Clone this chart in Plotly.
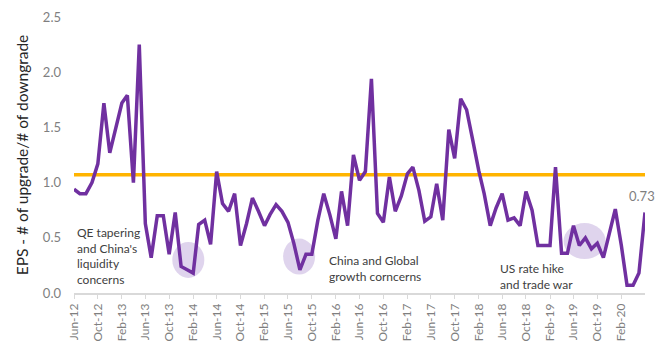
import pandas as pd
import plotly.graph_objects as go

# ---- data ----
start_month = "2012-06-01"
eps_ratio = [
    0.94, 0.90, 0.90, 1.00, 1.17, 1.72, 1.27, 1.50, 1.72, 1.79, 1.00, 2.25,
    0.63, 0.32, 0.70, 0.70, 0.35, 0.73, 0.24, 0.21, 0.18, 0.62, 0.66, 0.44,
    1.10, 0.81, 0.74, 0.90, 0.43, 0.63, 0.86, 0.74, 0.61, 0.71, 0.80, 0.74,
    0.64, 0.45, 0.21, 0.35, 0.35, 0.66, 0.90, 0.71, 0.49, 0.92, 0.61, 1.25,
    1.02, 1.10, 1.94, 0.72, 0.64, 1.05, 0.74, 0.88, 1.08, 1.14, 0.93, 0.65,
    0.69, 0.99, 0.66, 1.48, 1.22, 1.76, 1.66, 1.39, 1.11, 0.90, 0.61, 0.77,
    0.90, 0.66, 0.68, 0.61, 0.92, 0.75, 0.43, 0.43, 0.43, 1.14, 0.36, 0.36,
    0.61, 0.43, 0.50, 0.40, 0.45, 0.32, 0.54, 0.76, 0.43, 0.07, 0.07, 0.18,
    0.73,
]
average_level = 1.07
y_ticks = [0.0, 0.5, 1.0, 1.5, 2.0, 2.5]

dates = pd.date_range(start_month, periods=len(eps_ratio), freq="MS")
tick_dates = dates[:-1:4]
tick_labels = [d.strftime("%b-%y") for d in tick_dates]

# highlight circles: (center date, center value, rx px, ry px)
highlights = [
    ("2014-01-07", 0.30, 16, 18),
    ("2015-07-28", 0.33, 16, 18),
    ("2019-07-28", 0.47, 21, 18),
]
notes = [
    ("2012-06-08", 0.63, "QE tapering<br>and China's<br>liquidity<br>concerns"),
    ("2015-12-18", 0.38, "China and Global<br>growth corncerns"),
    ("2018-05-12", 0.31, "US rate hike<br>and trade war"),
]

PURPLE = "#7030A0"
ORANGE = "#FFB400"
GREY = "#7F7F7F"
FONT = "Lato, 'Open Sans', sans-serif"

fig = go.Figure()
fig.add_trace(go.Scatter(
    x=dates, y=[average_level] * len(dates), mode="lines",
    line=dict(color=ORANGE, width=3.5), hoverinfo="skip", showlegend=False))
fig.add_trace(go.Scatter(
    x=dates, y=eps_ratio, mode="lines",
    line=dict(color=PURPLE, width=3.5), showlegend=False))

for cx, cy, rx, ry in highlights:
    fig.add_shape(type="circle", xref="x", yref="y",
                  xsizemode="pixel", ysizemode="pixel",
                  xanchor=cx, yanchor=cy,
                  x0=-rx, x1=rx, y0=-ry, y1=ry,
                  fillcolor="rgba(196,176,222,0.55)", line=dict(width=0),
                  layer="below")

for nx, ny, txt in notes:
    fig.add_annotation(x=nx, y=ny, text=txt, showarrow=False,
                       xanchor="left", yanchor="top", align="left",
                       font=dict(family=FONT, size=12, color="#404040"))

fig.add_annotation(x=dates[-1], y=eps_ratio[-1], text=f"{eps_ratio[-1]:.2f}",
                   showarrow=False, xanchor="center", yanchor="bottom",
                   xshift=-3, yshift=6,
                   font=dict(family=FONT, size=13, color=GREY))

fig.update_layout(
    width=656, height=345,
    margin=dict(l=74, r=11, t=17, b=52),
    paper_bgcolor="white", plot_bgcolor="white",
    font=dict(family=FONT, color=GREY),
)
fig.update_xaxes(
    range=[dates[0], dates[-1]], automargin=False,
    tickvals=tick_dates, ticktext=tick_labels, tickangle=-90,
    tickfont=dict(family=FONT, size=12, color=GREY),
    showgrid=False, zeroline=False,
    showline=True, linecolor="#D9D9D9", linewidth=1.5,
    ticks="outside", ticklen=4, tickcolor="#D9D9D9",
)
fig.update_yaxes(
    range=[0, 2.5], automargin=False,
    tickvals=y_ticks, ticktext=[f"{v:.1f}" for v in y_ticks],
    tickfont=dict(family=FONT, size=13, color=GREY),
    showgrid=False, zeroline=False, showline=False,
    ticklabelstandoff=12,
    title=dict(text="EPS - # of upgrade/# of downgrade",
               font=dict(family=FONT, size=15.5, color="#262626"), standoff=10),
)

fig.write_html("out.html")
